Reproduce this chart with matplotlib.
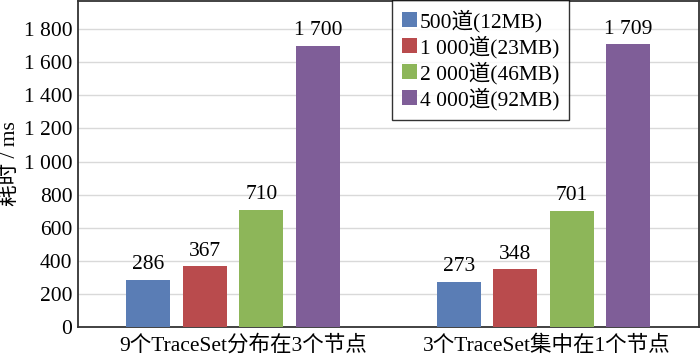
import matplotlib

matplotlib.use("Agg")

import matplotlib.pyplot as plt
import matplotlib.transforms as mtransforms
import numpy as np

plt.rcParams["font.family"] = ["Liberation Serif", "Noto Sans CJK SC"]

categories = ["9个TraceSet分布在3个节点", "3个TraceSet集中在1个节点"]
series_labels = ["500道(12MB)", "1 000道(23MB)", "2 000道(46MB)", "4 000道(92MB)"]
values = [
    [286, 273],
    [367, 348],
    [710, 701],
    [1700, 1709],
]
yticks = [0, 200, 400, 600, 800, 1000, 1200, 1400, 1600, 1800]
colors = ["#5A7DB5", "#B94B4D", "#8DB659", "#7F5E98"]


def fmt(v):
    return f"{v:,}".replace(",", " ")


fig = plt.figure(figsize=(7.0, 3.58), dpi=100)
ax = fig.add_axes([78 / 700, 31 / 358, 620.5 / 700, 326 / 358])

x = np.arange(len(categories))
pitch = 0.182
width = 0.142
for i, (label, vals, color) in enumerate(zip(series_labels, values, colors)):
    pos = x + (i - 1.5) * pitch
    bars = ax.bar(pos, vals, width=width, color=color, label=label, zorder=3)
    for b, v in zip(bars, vals):
        ax.annotate(fmt(v), (b.get_x() + b.get_width() / 2, v),
                    xytext=(0, 4), textcoords="offset points",
                    ha="center", va="bottom", fontsize=15.5)

ax.set_xlim(-0.5, 1.5)
ax.set_ylim(0, 1970)
ax.set_yticks(yticks)
ax.set_yticklabels([fmt(t) for t in yticks], fontsize=15.5)
ax.set_xticks(x)
ax.set_xticklabels(categories, fontsize=15.5)
ax.tick_params(axis="both", length=0)
ax.tick_params(axis="y", pad=4)
ax.tick_params(axis="x", pad=6)
# the source chart sets the category labels slightly right of the bar groups
for lbl, dx in zip(ax.get_xticklabels(), (10, 3)):
    lbl.set_transform(lbl.get_transform()
                      + mtransforms.ScaledTranslation(dx / 100, 0, fig.dpi_scale_trans))
ax.set_ylabel("耗时 / ms", fontsize=15.5, labelpad=3)
ax.grid(axis="y", color="#D9D9D9", linewidth=1.0, zorder=0)
for s in ax.spines.values():
    s.set_color("#333333")
    s.set_linewidth(1.3)

leg = ax.legend(loc="upper left", bbox_to_anchor=(392 / 700, 1.0),
                bbox_transform=fig.transFigure, fontsize=15.5,
                frameon=True, fancybox=False, edgecolor="black",
                handlelength=0.7, handleheight=0.7, handletextpad=0.15,
                labelspacing=0.15, borderpad=0.45, borderaxespad=0)
leg.get_frame().set_linewidth(1.0)

fig.savefig("out.png", dpi=100)
